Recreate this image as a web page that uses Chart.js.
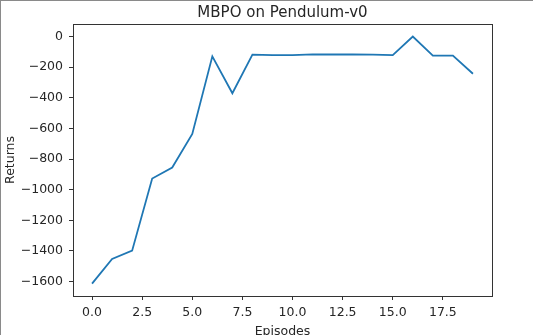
<!DOCTYPE html>
<html>
<head>
<meta charset="utf-8"/>
<style>
  html,body{margin:0;padding:0;background:#fff;}
  #wrap{width:533px;height:335px;box-sizing:border-box;border-top:1px solid #8a8a8a;border-left:1px solid #8a8a8a;overflow:hidden;}
  canvas{display:block;}
</style>
</head>
<body>
<div id="wrap"><canvas id="c" width="532" height="334"></canvas></div>
<script src="https://cdn.jsdelivr.net/npm/chart.js@4.4.0/dist/chart.umd.min.js"></script>
<script>
// data
const episodes = [0,1,2,3,4,5,6,7,8,9,10,11,12,13,14,15,16,17,18,19];
const returns  = [-1613,-1452,-1398,-927,-855,-636,-129,-370,-118,-121,-121,-116,-117,-117,-118,-121,0,-124,-125,-243];
const xTicks = [0,2.5,5,7.5,10,12.5,15,17.5];
const yTicks = [0,-200,-400,-600,-800,-1000,-1200,-1400,-1600];

const INK = '#262626';
const FONT = 'DejaVu Sans';
const minus = v => String(v).replace('-', '\u2212');

// matplotlib style box around the axes + title centred on the plot area
const frame = {
  id:'frame',
  afterLayout(chart){
    const a = chart.chartArea;
    if (chart.titleBlock){ chart.titleBlock.left = a.left; chart.titleBlock.right = a.right; }
  },
  afterDatasetsDraw(chart){
    const {ctx, chartArea:a} = chart;
    ctx.save();
    ctx.strokeStyle = '#333';
    ctx.lineWidth = 1;
    ctx.strokeRect(Math.round(a.left)+0.5, Math.round(a.top)+0.5,
                   Math.round(a.right-a.left), Math.round(a.bottom-a.top));
    ctx.restore();
  }
};

new Chart(document.getElementById('c'), {
  type:'line',
  data:{
    labels: episodes,
    datasets:[{
      data: episodes.map((x,i) => ({x, y: returns[i]})),
      borderColor:'#1f77b4',
      borderWidth:1.8,
      pointRadius:0,
      tension:0,
      fill:false
    }]
  },
  options:{
    responsive:false,
    animation:false,
    devicePixelRatio:1,
    layout:{padding:{left:0, right:41, top:0, bottom:0}},
    plugins:{
      legend:{display:false},
      tooltip:{enabled:false},
      title:{display:true, text:'MBPO on Pendulum-v0', color:INK,
             font:{family:FONT, size:15, weight:'normal', lineHeight:1.2},
             padding:{top:3, bottom:2}}
    },
    scales:{
      x:{
        type:'linear', min:-0.95, max:19.95,
        afterBuildTicks: s => { s.ticks = xTicks.map(v => ({value:v})); },
        afterFit: s => { s.height = 39; },
        ticks:{color:INK, font:{family:FONT, size:12.5}, padding:5, maxRotation:0,
               callback: v => v.toFixed(1)},
        grid:{drawOnChartArea:false, drawTicks:true, tickLength:4, color:'#333'},
        border:{display:true, color:'#333'},
        title:{display:true, text:'Episodes', color:INK,
               font:{family:FONT, size:12.5, lineHeight:0.6}, padding:0}
      },
      y:{
        min:-1694, max:82,
        afterBuildTicks: s => { s.ticks = yTicks.map(v => ({value:v})); },
        afterFit: s => { s.width = 72; },
        ticks:{color:INK, font:{family:FONT, size:12.5}, padding:6,
               callback: v => minus(v)},
        grid:{drawOnChartArea:false, drawTicks:true, tickLength:4, color:'#333'},
        border:{display:true, color:'#333'},
        title:{display:true, text:'Returns', color:INK,
               font:{family:FONT, size:12.5, lineHeight:1.2}, padding:{top:2, bottom:0}}
      }
    }
  },
  plugins:[frame]
});
</script>
</body>
</html>
